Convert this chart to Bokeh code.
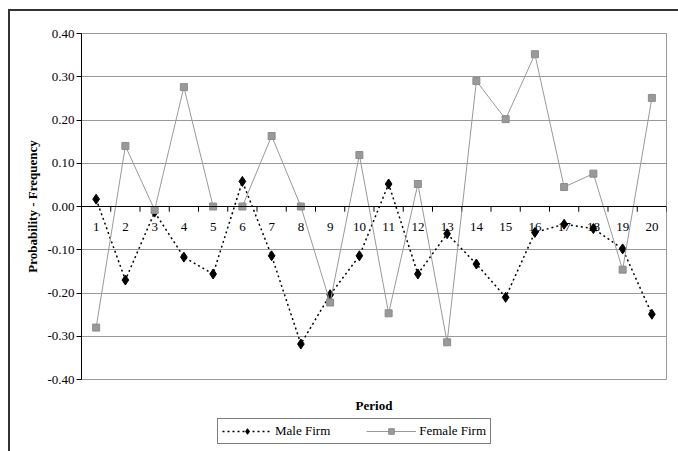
from bokeh.plotting import figure
from bokeh.layouts import column
from bokeh.models import Range1d, Span, Legend, LegendItem, FixedTicker, NumeralTickFormatter
from bokeh.core.properties import value
from bokeh.embed import file_html
from bokeh.resources import INLINE

periods = list(range(1, 21))
period_labels = [str(i) for i in periods]
male = [0.017, -0.170, -0.013, -0.117, -0.156, 0.058, -0.114, -0.318, -0.204, -0.114,
        0.052, -0.156, -0.063, -0.133, -0.210, -0.060, -0.041, -0.051, -0.098, -0.249]
female = [-0.280, 0.140, -0.008, 0.276, 0.000, 0.000, 0.163, 0.000, -0.222, 0.119,
          -0.247, 0.052, -0.314, 0.290, 0.202, 0.352, 0.045, 0.076, -0.146, 0.251]
y_ticks = [-0.4, -0.3, -0.2, -0.1, 0.0, 0.1, 0.2, 0.3, 0.4]

FONT = "Liberation Serif"
MALE_STYLE = dict(line_color="black", line_width=1.5, line_dash="2 3")
MALE_MARK = dict(marker="diamond", size=10, fill_color="black", line_color="black")
FEMALE_STYLE = dict(line_color="#999999", line_width=1)
FEMALE_MARK = dict(marker="square", size=7, fill_color="#999999", line_color="#8c8c8c")

p = figure(width=668, height=404, output_backend="svg", toolbar_location=None,
           x_range=Range1d(0.5, 20.5), y_range=Range1d(-0.4, 0.4),
           min_border_left=71, min_border_right=12, min_border_top=22, min_border_bottom=35,
           background_fill_color="white", border_fill_color="white")
p.outline_line_color = "#999999"
p.outline_line_width = 1

# y axis
p.yaxis.ticker = FixedTicker(ticks=y_ticks)
p.yaxis.formatter = NumeralTickFormatter(format="0.00")
p.yaxis.axis_line_color = "black"
p.yaxis.major_tick_line_color = "black"
p.yaxis.major_tick_out = 5
p.yaxis.major_tick_in = 0
p.yaxis.minor_tick_line_color = None
p.yaxis.major_label_standoff = 2
p.yaxis.major_label_text_font = FONT
p.yaxis.major_label_text_font_size = "13px"
p.yaxis.major_label_text_color = "black"
p.yaxis.axis_label = "Probability - Frequency"
p.yaxis.axis_label_text_font = FONT
p.yaxis.axis_label_text_font_size = "13px"
p.yaxis.axis_label_text_font_style = "bold"
p.yaxis.axis_label_text_color = "black"
p.yaxis.axis_label_standoff = 4

# x axis: only the title
p.xaxis.ticker = FixedTicker(ticks=[])
p.xaxis.axis_line_color = None
p.xaxis.major_tick_line_color = None
p.xaxis.minor_tick_line_color = None
p.xaxis.axis_label = "Period"
p.xaxis.axis_label_text_font = FONT
p.xaxis.axis_label_text_font_size = "13px"
p.xaxis.axis_label_text_font_style = "bold"
p.xaxis.axis_label_text_color = "black"
p.xaxis.axis_label_standoff = 18

p.xgrid.grid_line_color = None
p.ygrid.ticker = FixedTicker(ticks=y_ticks)
p.ygrid.grid_line_color = "#999999"
p.ygrid.grid_line_width = 1

# category axis at zero
p.add_layout(Span(location=0, dimension="width", line_color="black", line_width=1))
bounds = [periods[0] - 0.5] + [k + 0.5 for k in periods]
p.segment(x0=bounds, y0=[0] * len(bounds), x1=bounds, y1=[-0.012] * len(bounds),
          line_color="black", line_width=1)
p.text(x=periods, y=[0] * len(periods), text=period_labels, text_align="center",
       text_baseline="top", y_offset=16, text_font=value(FONT), text_font_size="13px",
       text_color="black")

# series
p.line(periods, male, **MALE_STYLE)
p.scatter(periods, male, **MALE_MARK)
p.line(periods, female, **FEMALE_STYLE)
p.scatter(periods, female, **FEMALE_MARK)

# legend strip (separate figure so the legend is not clipped);
# its series renderers lie outside its view, only their legend samples show
lg = figure(width=668, height=36, output_backend="svg", toolbar_location=None,
            x_axis_location=None, y_axis_location=None,
            x_range=Range1d(-20, -10), y_range=Range1d(-20, -10),
            min_border_left=0, min_border_right=0, min_border_top=0, min_border_bottom=0,
            background_fill_color="white", border_fill_color="white")
lg.outline_line_color = None
lg.xgrid.grid_line_color = None
lg.ygrid.grid_line_color = None
ml = lg.line(periods, male, **MALE_STYLE)
mp = lg.scatter(periods, male, **MALE_MARK)
fl = lg.line(periods, female, **FEMALE_STYLE)
fp = lg.scatter(periods, female, **FEMALE_MARK)

legend = Legend(items=[LegendItem(label="Male Firm", renderers=[ml, mp]),
                       LegendItem(label="Female Firm", renderers=[fl, fp])],
                orientation="horizontal", location=(136, 7))
legend.label_text_font = FONT
legend.label_text_font_size = "13px"
legend.label_text_color = "black"
legend.border_line_color = "black"
legend.border_line_width = 1
legend.glyph_width = 50
legend.glyph_height = 14
legend.label_standoff = 3
legend.spacing = 36
legend.padding = 4
legend.margin = 0
legend.background_fill_color = "white"
lg.add_layout(legend, "center")

layout = column(p, lg, spacing=0,
                styles={"margin-left": "8px", "margin-top": "9px",
                        "border-top": "2px solid #333333", "border-left": "2px solid #333333"})

open("out.html", "w").write(file_html(layout, INLINE))
